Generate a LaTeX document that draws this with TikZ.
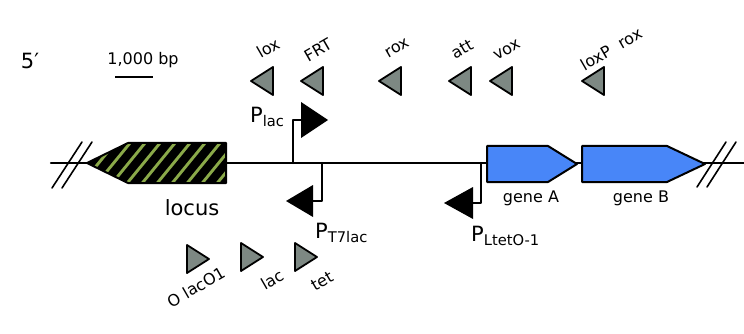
\documentclass[tikz,border=0pt]{standalone}
\usepackage{fontspec}
\setmainfont{DejaVu Sans}
\usetikzlibrary{arrows.meta,positioning,calc}
\tikzset{every picture/.style={line cap=round, line join=round}}
\definecolor{cdsblue}{RGB}{72,134,248}
\definecolor{sitegrey}{RGB}{125,136,131}
\definecolor{hatchgreen}{RGB}{139,170,74}
\tikzset{line/.style={draw, line width=2.4pt}}
\tikzset{cds/.style={draw, fill=cdsblue, line width=2pt}}
\tikzset{sitebox/.style={draw, fill=sitegrey, line width=1.8pt}}
\tikzset{big/.style={font=\fontsize{21}{24}\selectfont, inner sep=0pt}}
\tikzset{small/.style={font=\fontsize{16}{18}\selectfont, inner sep=0pt}}
\tikzset{tilted/.style={small, rotate=30}}
\tikzset{siteL/.pic={\path[sitebox] (-11,0) -- (11,-14) -- (11,14) -- cycle;}}
\tikzset{siteR/.pic={\path[sitebox] (11,0) -- (-11,-14) -- (-11,14) -- cycle;}}

\begin{document}
\begin{tikzpicture}[x=1pt,y=-1pt]
  \useasboundingbox (0,0) rectangle (744,334);

  % backbone and breaks
  \draw[line] (51,163) -- (744,163);
  \draw[line width=1.6pt] (52,188) -- (82,142) (62,188) -- (92,142);
  \draw[line width=1.6pt] (697,187) -- (726,142) (707,187) -- (736,142);

  % title and scale
  \node[big] (title) at (30,61) {5′};
  \node[small] (scale) at (143,60) {1,000 bp};
  \draw[line width=2.7pt, line cap=butt] (115,77) -- (153,77);

  % hatched element
  \begin{scope}
    \clip (87,163) -- (128,143) -- (226,143) -- (226,183) -- (128,183) -- cycle;
    \fill[hatchgreen] (80,140) rectangle (230,190);
    \foreach \x in {20,35,...,245}
      \draw[line width=8.4pt, line cap=butt] (\x,195) -- ++(45,-55);
  \end{scope}
  \draw[line width=2pt] (87,163) -- (128,143) -- (226,143) -- (226,183) -- (128,183) -- cycle;
  \node[big] (locus) at (192,208) {locus};

  % promoter, forward
  \coordinate (pA) at (293,163);
  \coordinate (pAtip) at (301,120);
  \draw[line] (pA) |- (pAtip);
  \fill (301,102) -- (328,120) -- (301,138) -- cycle;
  \node[big, anchor=west] (pAlab) at (250,117) {P\textsubscript{lac}};

  % promoter, reverse 1
  \coordinate (pB) at (322,163);
  \coordinate (pBtip) at (313,201);
  \draw[line] (pB) |- (pBtip);
  \fill (313,185) -- (286,201) -- (313,217) -- cycle;
  \node[big, anchor=west] (pBlab) at (315,233) {P\textsubscript{T7lac}};

  % promoter, reverse 2
  \coordinate (pC) at (481,163);
  \coordinate (pCtip) at (473,203);
  \draw[line] (pC) |- (pCtip);
  \fill (473,187) -- (444,203) -- (473,219) -- cycle;
  \node[big, anchor=west] (pClab) at (471,236) {P\textsubscript{LtetO-1}};

  % genes
  \path[cds] (487,146) -- (548,146) -- (577,164) -- (548,182) -- (487,182) -- cycle;
  \node[small] (geneA) at (531,198) {gene A};
  \path[cds] (582,146) -- (667,146) -- (705,164) -- (667,182) -- (582,182) -- cycle;
  \node[small] (geneB) at (641,198) {gene B};

  % sites, top strand
  \foreach \x/\lx/\ly/\t [count=\i] in {262/268/48/lox, 312/318/50/FRT,
      390/397/48/rox, 460/462/49/att, 501/507/50/vox, 593/611/49/loxP\ \ rox}
  {
    \pic at (\x,81) {siteL};
    \node[tilted] (top\i) at (\lx,\ly) {\t};
  }

  % sites, bottom strand
  \foreach \x/\y/\lx/\ly/\t [count=\i] in {198/259/196/287/O\ lacO1,
      252/257/272/280/lac, 306/257/322/281/tet}
  {
    \pic at (\x,\y) {siteR};
    \node[tilted] (bot\i) at (\lx,\ly) {\t};
  }
\end{tikzpicture}
\end{document}
